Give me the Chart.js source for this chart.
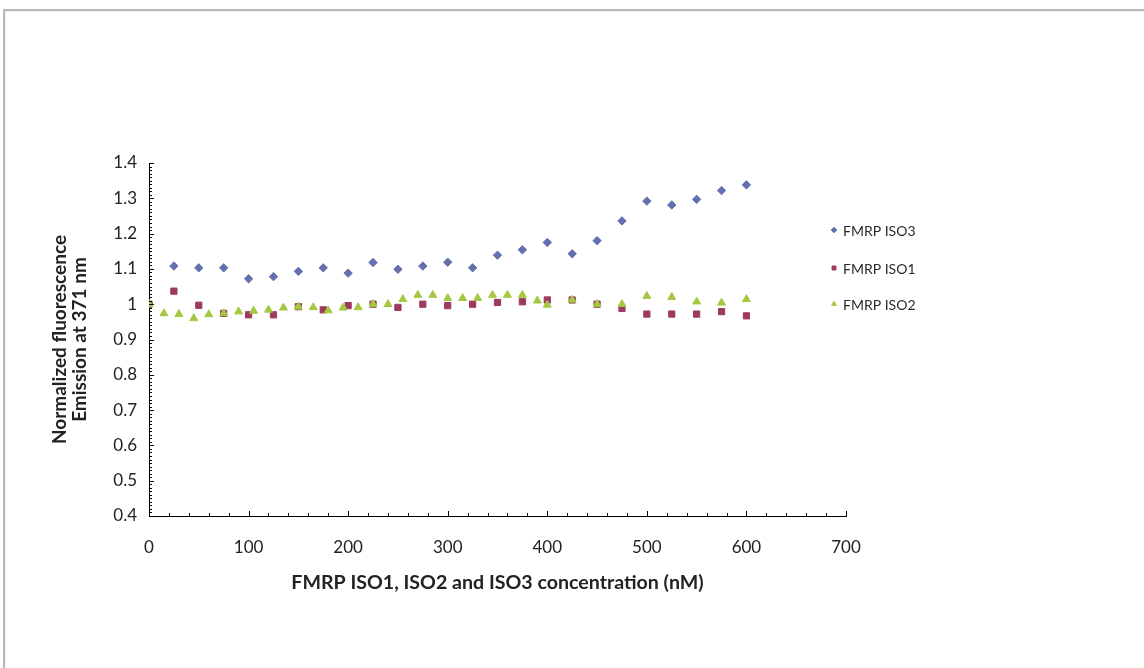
<!DOCTYPE html>
<html><head><meta charset="utf-8">
<script src="https://cdn.jsdelivr.net/npm/chart.js@4.4.0/dist/chart.umd.min.js"></script>
<style>
html,body{margin:0;padding:0;background:#fff;}
#wrap{position:relative;width:1144px;height:668px;overflow:hidden;background:#fff;}
#frame{position:absolute;left:3px;top:9px;width:1200px;height:700px;border-top:2px solid #b8b8b8;border-left:2px solid #b8b8b8;box-shadow:inset 1px 1px 2px rgba(0,0,0,0.06);}
canvas{position:absolute;left:0;top:0;}
</style></head>
<body><div id="wrap"><div id="frame"></div><canvas id="c" width="1144" height="668"></canvas></div>
<script>
// ---- data ----
const seriesNames = ['FMRP ISO3', 'FMRP ISO1', 'FMRP ISO2'];

const iso3X = [0,25,50,75,100,125,150,175,200,225,250,275,300,325,350,375,400,425,450,475,500,525,550,575,600];
const iso3Y = [1.000,1.108,1.103,1.103,1.072,1.078,1.093,1.103,1.088,1.118,1.099,1.108,1.119,1.103,1.139,1.154,1.175,1.143,1.180,1.236,1.292,1.281,1.297,1.322,1.338];

const iso1X = [0,25,50,75,100,125,150,175,200,225,250,275,300,325,350,375,400,425,450,475,500,525,550,575,600];
const iso1Y = [1.000,1.037,0.997,0.974,0.970,0.970,0.993,0.984,0.996,1.000,0.991,1.000,0.996,1.000,1.005,1.007,1.012,1.012,1.000,0.988,0.972,0.972,0.972,0.979,0.967];

const iso2X = [0,15,30,45,60,75,90,105,120,135,150,165,180,195,210,225,240,255,270,285,300,315,330,345,360,375,390,400,425,450,475,500,525,550,575,600];
const iso2Y = [1.000,0.974,0.972,0.960,0.971,0.974,0.979,0.981,0.984,0.990,0.993,0.991,0.982,0.990,0.991,1.000,1.000,1.014,1.026,1.026,1.017,1.017,1.017,1.026,1.026,1.026,1.010,0.998,1.012,1.000,1.000,1.023,1.020,1.007,1.004,1.014];

const xTickLabels = ['0','100','200','300','400','500','600','700'];
const yTickLabels = ['0.4','0.5','0.6','0.7','0.8','0.9','1','1.1','1.2','1.3','1.4'];

const xTitle = 'FMRP ISO1, ISO2 and ISO3 concentration (nM)';
const yTitle = ['Normalized fluorescence', 'Emission at 371 nm'];

// ---- styling ----
const FONT = "Lato, 'Open Sans', sans-serif";
const styles = [
  {color:'#6370ad', pointStyle:'rectRot', radius:4.2, order:2},
  {color:'#9d3a5e', pointStyle:'rect', radius:4.4, order:1},
  {color:'#a5c843', pointStyle:'triangle', radius:4.6, order:0}
];
const xs = [iso3X, iso1X, iso2X];
const ys = [iso3Y, iso1Y, iso2Y];

const datasets = seriesNames.map((name, i) => ({
  label: name,
  data: xs[i].map((x, j) => ({x: x, y: ys[i][j]})),
  showLine: false,
  pointStyle: styles[i].pointStyle,
  pointRadius: styles[i].radius,
  pointHoverRadius: styles[i].radius,
  backgroundColor: styles[i].color,
  borderColor: styles[i].color,
  borderWidth: 1,
  order: styles[i].order
}));

const minorTicks = {
  id: 'minorTicks',
  afterDraw(chart) {
    const ctx = chart.ctx;
    const xS = chart.scales.x, yS = chart.scales.y;
    const ca = chart.chartArea;
    ctx.save();
    ctx.strokeStyle = '#000';
    ctx.lineWidth = 1;
    ctx.beginPath();
    for (let v = 0; v <= 700; v += 20) {
      const px = Math.round(xS.getPixelForValue(v)) + 0.5;
      const len = (v % 100 === 0) ? 5 : 3;
      ctx.moveTo(px, ca.bottom);
      ctx.lineTo(px, ca.bottom - len);
    }
    for (let k = 0; k <= 100; k++) {
      const v = 0.4 + k * 0.01;
      const py = Math.round(yS.getPixelForValue(v)) + 0.5;
      const len = (k % 10 === 0) ? 5 : 3;
      ctx.moveTo(ca.left, py);
      ctx.lineTo(ca.left + len, py);
    }
    ctx.stroke();
    ctx.restore();
  }
};

const sideLegend = {
  id: 'sideLegend',
  afterDraw(chart) {
    const ctx = chart.ctx;
    const ys0 = [230, 268, 304];
    ctx.save();
    chart.data.datasets.forEach((ds, i) => {
      ctx.fillStyle = ds.backgroundColor;
      ctx.strokeStyle = ds.borderColor;
      ctx.lineWidth = 1;
      Chart.helpers.drawPoint(ctx, {pointStyle: ds.pointStyle, radius: 2.8, borderWidth: 1, rotation: 0}, 834, ys0[i]);
      ctx.fillStyle = '#2a2a2a';
      ctx.font = "14px " + FONT;
      ctx.textBaseline = 'middle';
      ctx.textAlign = 'left';
      ctx.fillText(ds.label, 843, ys0[i] + 1);
    });
    ctx.restore();
  }
};

new Chart(document.getElementById('c'), {
  type: 'scatter',
  data: {datasets},
  options: {
    responsive: false,
    animation: false,
    layout: {padding: {left: 50, right: 298, top: 163, bottom: 0}},
    plugins: {legend: {display: false}, tooltip: {enabled: false}},
    scales: {
      x: {
        type: 'linear', min: 0, max: 700,
        afterFit: s => { s.height = 152; },
        ticks: {stepSize: 100, padding: 21, color: '#222', font: {family: FONT, size: 17},
          callback: (v) => xTickLabels[Math.round(v / 100)]},
        grid: {display: false, drawTicks: false},
        border: {display: true, color: '#000', width: 1},
        title: {display: true, text: xTitle, color: '#222', font: {family: FONT, size: 19.6, weight: 'bold', lineHeight: 1.2}, padding: {top: 0, bottom: 74}}
      },
      y: {
        type: 'linear', min: 0.4, max: 1.4,
        afterFit: s => { s.width = 99; },
        ticks: {stepSize: 0.1, padding: 12, color: '#222', font: {family: FONT, size: 17},
          callback: (v) => yTickLabels[Math.round((v - 0.4) * 10)]},
        grid: {display: false, drawTicks: false},
        border: {display: true, color: '#000', width: 1},
        title: {display: true, text: yTitle, color: '#222', font: {family: FONT, size: 19, weight: 'bold', lineHeight: 1.05}, padding: {top: 0, bottom: 0}}
      }
    }
  },
  plugins: [minorTicks, sideLegend]
});
</script>
</body></html>
